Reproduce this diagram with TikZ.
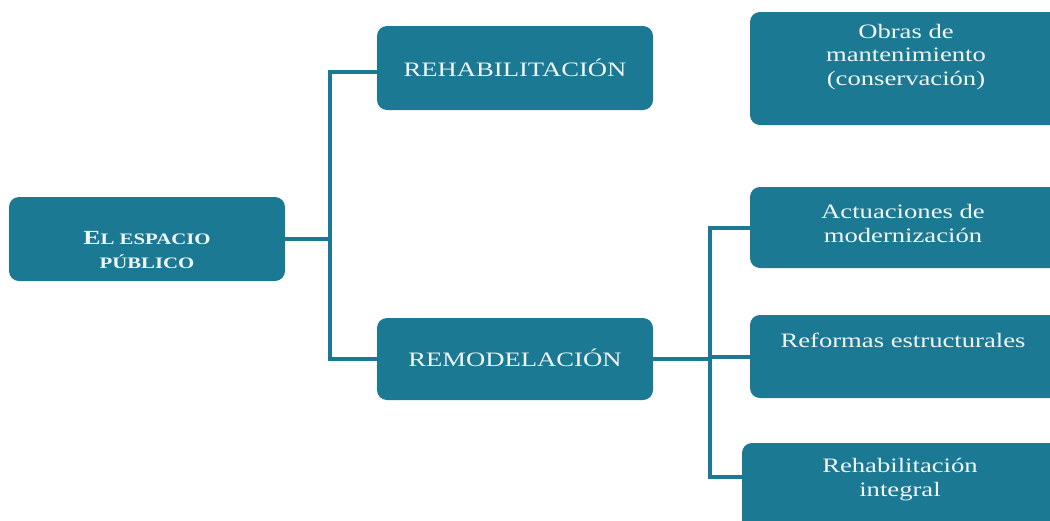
\documentclass[tikz,border=0pt]{standalone}
\usepackage{fontspec}
\setmainfont{Liberation Serif}[FakeStretch=1.3]
\definecolor{teal1}{RGB}{28,121,148}
\definecolor{txtc}{RGB}{240,245,246}
\tikzset{
  box/.style={draw=none, fill=teal1, rounded corners=10pt, inner sep=0pt},
  txt/.style={text=txtc, align=center, inner sep=0pt, font=\fontsize{20.5}{23.5}\selectfont},
  conn/.style={draw=teal1, line width=4pt}
}
\begin{document}
\begin{tikzpicture}[x=1pt,y=-1pt]
\clip (0,0) rectangle (1050,520);
\fill[white] (0,0) rectangle (1050,520);
% boxes
\node[box, minimum width=276pt, minimum height=84pt] (ep) at (147,239) {};
\node[box, minimum width=276pt, minimum height=84pt] (rehab) at (515,68) {};
\node[box, minimum width=276pt, minimum height=82pt] (remod) at (515,359) {};
\node[box, minimum width=320pt, minimum height=113pt] (obras) at (910,68.5) {};
\node[box, minimum width=320pt, minimum height=81pt] (act) at (910,227.5) {};
\node[box, minimum width=320pt, minimum height=83pt] (ref) at (910,356.5) {};
\node[box, minimum width=328pt, minimum height=90pt] (ri) at (906,488) {};
% texts
\node[txt, font=\bfseries\fontsize{16}{24}\selectfont] (tep) at (147,250) {{\fontsize{20}{24}\selectfont E}L ESPACIO\\PÚBLICO};
\node[txt] (trehab) at (515,68) {REHABILITACIÓN};
\node[txt] (tremod) at (515,358) {REMODELACIÓN};
\node[txt] (tobras) at (906,57) {Obras de\\mantenimiento\\(conservación)};
\node[txt] (tact) at (903,223.5) {Actuaciones de\\modernización};
\node[txt] (tref) at (903,340) {Reformas estructurales};
\node[txt] (tri) at (900,479.5) {Rehabilitación\\integral};
% connectors
\coordinate (j1) at (330,239);
\coordinate (j2) at (710,359);
\draw[conn] (ep.east) -- (j1);
\draw[conn] (j1) |- ([yshift=-4pt]rehab.west);
\draw[conn] (j1) |- (remod.west);
\draw[conn] (remod.east) -- (j2);
\draw[conn] (j2) |- (act.west);
\draw[conn] (j2) |- (ref.west);
\draw[conn] (j2) |- ([yshift=11pt]ri.west);
\end{tikzpicture}
\end{document}
